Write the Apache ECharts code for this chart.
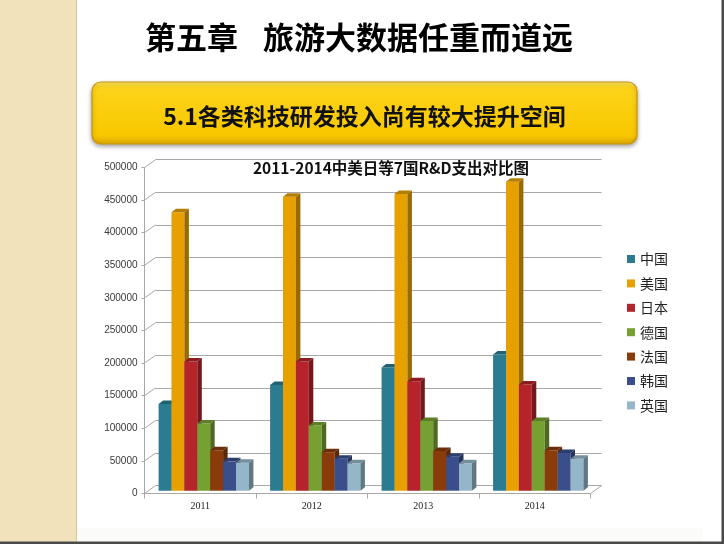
<!DOCTYPE html>
<html>
<head>
<meta charset="utf-8">
<title>R&D</title>
<script src="https://cdn.jsdelivr.net/npm/echarts@6/dist/echarts.min.js"></script>
<style>
    html, body { margin: 0; padding: 0; background: #fff; }
    #chart { width: 724px; height: 544px; }
</style>
</head>
<body>
<div id="chart"></div>
<script>
let years = ['2011', '2012', '2013', '2014'];
let countries = ['中国', '美国', '日本', '德国', '法国', '韩国', '英国'];
let china = [133000, 162000, 189000, 209000];
let usa = [427000, 451000, 455000, 474000];
let japan = [198000, 198000, 168000, 163000];
let germany = [103000, 100000, 107000, 107000];
let france = [62000, 59000, 61000, 62000];
let korea = [45000, 49000, 52000, 58000];
let uk = [43000, 42000, 42000, 49000];
let seriesValues = [china, usa, japan, germany, france, korea, uk];
let barColors = ['#2c7c91', '#e6a100', '#b5232b', '#76a132', '#8a3b0a', '#3a4e8c', '#93b6c8'];
let yMin = 0;
let yMax = 500000;
let yStep = 50000;

// 3D look: depth offset of the walls and of the bar boxes
const wallDx = 11, wallDy = 7.8;
const barDx = 4.5, barDy = 3.5;
const barGap = 0.19;

function shade(hex, f) {
    let n = parseInt(hex.slice(1), 16);
    let r = Math.round(((n >> 16) & 255) * f);
    let g = Math.round(((n >> 8) & 255) * f);
    let b = Math.round((n & 255) * f);
    return 'rgb(' + r + ',' + g + ',' + b + ')';
}

function drawBar(params, api) {
    let k = params.seriesIndex;
    let cat = api.value(0);
    let top = api.coord([cat, api.value(1)]);
    let base = api.coord([cat, 0]);
    let band = api.size([1, 0])[0];
    let bw = band * (1 - barGap) / countries.length;
    let x = top[0] - bw * countries.length / 2 + k * bw;
    let c = barColors[k];
    return {
        type: 'group',
        children: [
            {
                type: 'rect',
                shape: { x: x, y: top[1], width: bw, height: base[1] - top[1] },
                style: { fill: c }
            },
            {
                type: 'polygon',
                shape: { points: [[x + bw, top[1]], [x + bw + barDx, top[1] - barDy], [x + bw + barDx, base[1] - barDy], [x + bw, base[1]]] },
                style: { fill: shade(c, 0.66) }
            },
            {
                type: 'polygon',
                shape: { points: [[x, top[1]], [x + barDx, top[1] - barDy], [x + bw + barDx, top[1] - barDy], [x + bw, top[1]]] },
                style: { fill: shade(c, 0.78) }
            }
        ]
    };
}

// side wall lines and floor edge, hung on the back wall grid
function drawFrame(params, api) {
    let cs = params.coordSys;
    let p = api.coord([0, api.value(0)]);
    let lines = [{
        type: 'line',
        shape: { x1: cs.x, y1: p[1], x2: cs.x - wallDx, y2: p[1] + wallDy },
        style: { stroke: '#a8a8a8', lineWidth: 1 }
    }];
    if (api.value(0) === yMin) {
        lines.push({
            type: 'line',
            shape: { x1: cs.x + cs.width, y1: p[1], x2: cs.x + cs.width - wallDx, y2: p[1] + wallDy },
            style: { stroke: '#a8a8a8', lineWidth: 1 }
        });
    }
    return { type: 'group', children: lines };
}

let ticks = [];
for (let v = yMin; v <= yMax; v += yStep) {
    ticks.push([v]);
}

let series = [];
for (let i = 0; i < countries.length; i++) {
    series.push({
        name: countries[i],
        type: 'custom',
        xAxisIndex: 2,
        yAxisIndex: 2,
        renderItem: drawBar,
        itemStyle: { color: barColors[i] },
        encode: { x: 0, y: 1 },
        data: seriesValues[i].map((v, j) => [j, v]),
        z: 3
    });
}
series.push({
    type: 'custom',
    xAxisIndex: 1,
    yAxisIndex: 1,
    renderItem: drawFrame,
    encode: { y: 0 },
    data: ticks,
    silent: true,
    z: 1
});

let valueAxis = {
    type: 'value',
    min: yMin,
    max: yMax,
    interval: yStep
};

let option = {
    animation: false,
    backgroundColor: '#ffffff',
    grid: [
        { left: 144.5, top: 167.5, width: 446, height: 326 },
        { left: 155.5, top: 159.7, width: 446, height: 326 },
        { left: 148, top: 164.7, width: 446, height: 326 }
    ],
    xAxis: [
        {
            gridIndex: 0,
            type: 'category',
            data: years,
            axisLine: { lineStyle: { color: '#a8a8a8', width: 1 } },
            axisTick: { show: true, length: 5, lineStyle: { color: '#a8a8a8' } },
            axisLabel: { margin: 8, fontSize: 10, color: '#222', fontFamily: 'Liberation Serif' },
            splitLine: { show: false }
        },
        { gridIndex: 1, type: 'category', data: years, show: false },
        { gridIndex: 2, type: 'category', data: years, show: false }
    ],
    yAxis: [
        Object.assign({}, valueAxis, {
            gridIndex: 0,
            axisLine: { show: true, lineStyle: { color: '#a8a8a8', width: 1 } },
            axisTick: { show: true, length: 3, lineStyle: { color: '#a8a8a8' } },
            axisLabel: {
                margin: 7, fontSize: 10, color: '#3a3a3a', fontFamily: 'Liberation Sans',
                formatter: (v) => String(v)
            },
            splitLine: { show: false }
        }),
        Object.assign({}, valueAxis, {
            gridIndex: 1,
            axisLine: { show: false },
            axisTick: { show: false },
            axisLabel: { show: false },
            splitLine: { show: true, lineStyle: { color: '#a8a8a8', width: 1 } }
        }),
        Object.assign({}, valueAxis, { gridIndex: 2, show: false })
    ],
    legend: {
        data: countries,
        orient: 'vertical',
        left: 622,
        top: 247,
        icon: 'rect',
        itemWidth: 8,
        itemHeight: 8,
        itemGap: 10.4,
        selectedMode: false,
        textStyle: { fontSize: 14, lineHeight: 14, color: '#222', fontFamily: 'Noto Sans CJK SC' }
    },
    graphic: [
        { type: 'rect', shape: { x: 0, y: 0, width: 76, height: 544 }, style: { fill: '#f1e2bb' }, z: -1 },
        { type: 'line', shape: { x1: 76.5, y1: 0, x2: 76.5, y2: 544 }, style: { stroke: '#d8c79b', lineWidth: 1 }, z: -1 },
        { type: 'rect', shape: { x: 77, y: 528, width: 626, height: 14 }, style: { fill: '#fbfbf9' }, z: -1 },
        { type: 'rect', shape: { x: 721.5, y: 0, width: 2.5, height: 544 }, style: { fill: '#4a4a4a' }, z: -1 },
        { type: 'rect', shape: { x: 0, y: 541.5, width: 724, height: 2.5 }, style: { fill: '#4a4a4a' }, z: -1 },
        {
            type: 'text', left: 145, top: 22,
            style: { text: '第五章', fontSize: 31, fontWeight: 'bold', fill: '#000', fontFamily: 'Noto Sans CJK SC' }
        },
        {
            type: 'text', left: 263, top: 22,
            style: { text: '旅游大数据任重而道远', fontSize: 31, fontWeight: 'bold', fill: '#000', fontFamily: 'Noto Sans CJK SC' }
        },
        {
            type: 'rect',
            shape: { x: 92, y: 82, width: 545, height: 62, r: 9 },
            style: {
                fill: new echarts.graphic.LinearGradient(0, 0, 0, 1, [
                    { offset: 0, color: '#ffe866' },
                    { offset: 0.1, color: '#fdd41a' },
                    { offset: 0.85, color: '#f8c800' },
                    { offset: 1, color: '#dca600' }
                ]),
                stroke: '#c8960a',
                lineWidth: 1.2,
                shadowBlur: 4,
                shadowOffsetY: 2,
                shadowColor: 'rgba(0,0,0,0.35)'
            }
        },
        {
            type: 'text', x: 364.5, y: 116,
            style: {
                text: '5.1各类科技研发投入尚有较大提升空间', fontSize: 23, fontWeight: 'bold', fill: '#111',
                fontFamily: 'Noto Sans CJK SC', align: 'center', verticalAlign: 'middle'
            }
        },
        {
            type: 'text', x: 391, y: 168,
            style: {
                text: '2011-2014中美日等7国R&D支出对比图', fontSize: 15.5, fontWeight: 'bold', fill: '#111',
                fontFamily: 'Noto Sans CJK SC', align: 'center', verticalAlign: 'middle'
            },
            z: 10
        }
    ],
    series: series
};

let myChart = echarts.init(document.getElementById('chart'), null, { renderer: 'canvas' });
myChart.setOption(option);
</script>
</body>
</html>
